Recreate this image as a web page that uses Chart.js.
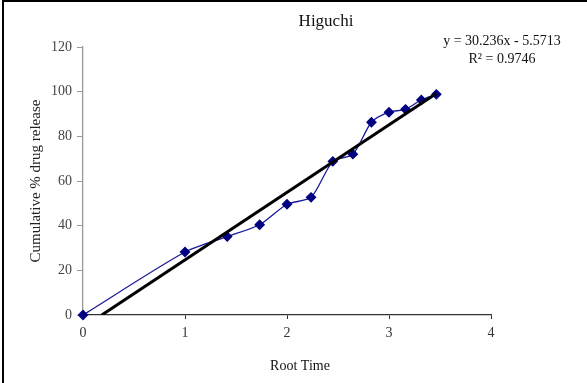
<!DOCTYPE html>
<html>
<head>
<meta charset="utf-8">
<script src="https://cdn.jsdelivr.net/npm/chart.js@4/dist/chart.umd.min.js"></script>
<style>
  html, body { margin: 0; padding: 0; background: #fff; }
  #wrap { width: 587px; height: 383px; }
</style>
</head>
<body>
<div id="wrap"><canvas id="myChart" width="587" height="383"></canvas></div>
<script>
// Root time (x) and cumulative % drug release (y)
const rootTime = [0, 1, 1.414, 1.732, 2, 2.236, 2.449, 2.646, 2.828, 3, 3.162, 3.317, 3.464];
const release = [0, 28.2, 35.1, 40.4, 49.6, 52.7, 68.8, 72.0, 86.3, 90.8, 92.1, 96.3, 98.8];

// Linear trendline end points
const trendX = [0.184, 3.464];
const trendY = [0, 99.2];

const chartTitle = 'Higuchi';
const equationLines = ['y = 30.236x - 5.5713', 'R\u00b2 = 0.9746'];
const xTitle = 'Root Time';
const yTitle = 'Cumulative % drug release';

const serif = "'Liberation Serif', 'Times New Roman', serif";

// Texts and frame drawn over the chart
const extras = {
    id: 'extras',
    afterDraw(chart) {
        const ctx = chart.ctx;
        ctx.save();
        ctx.fillStyle = '#000';
        ctx.fillRect(2, 0, 2, 383);
        ctx.fillRect(2, 0, 585, 2);

        ctx.fillStyle = '#111';
        ctx.textAlign = 'center';
        ctx.textBaseline = 'middle';
        ctx.font = '17px ' + serif;
        ctx.fillText(chartTitle, 326, 22);

        ctx.font = '14px ' + serif;
        ctx.fillText(equationLines[0], 502, 41);
        ctx.fillText(equationLines[1], 502, 59);

        ctx.font = '14px ' + serif;
        ctx.fillText(xTitle, 300, 366);
        ctx.restore();
    }
};

const data = {
    datasets: [
        {
            label: 'Trend',
            data: trendX.map((x, i) => ({ x: x, y: trendY[i] })),
            showLine: true,
            borderColor: '#000',
            borderWidth: 3,
            pointRadius: 0,
            order: 0
        },
        {
            label: 'Release',
            data: rootTime.map((x, i) => ({ x: x, y: release[i] })),
            showLine: true,
            clip: false,
            borderColor: '#1a1a99',
            borderWidth: 1.3,
            tension: 0.25,
            pointStyle: 'rectRot',
            pointRadius: 4.5,
            pointBackgroundColor: '#000080',
            pointBorderColor: '#000080',
            order: 1
        }
    ]
};

const config = {
    type: 'scatter',
    data: data,
    options: {
        responsive: false,
        animation: false,
        layout: {
            padding: { top: 47, right: 96, left: 0, bottom: 0 }
        },
        plugins: {
            legend: { display: false },
            tooltip: { enabled: false }
        },
        scales: {
            x: {
                type: 'linear',
                min: 0,
                max: 4,
                ticks: {
                    stepSize: 1,
                    color: '#333',
                    padding: 6,
                    font: { family: serif, size: 14 }
                },
                grid: {
                    drawOnChartArea: false,
                    tickLength: 4,
                    color: '#333'
                },
                border: { color: '#333', width: 1.3 },
                afterFit(scale) { scale.height = 68; }
            },
            y: {
                min: 0,
                max: 120,
                ticks: {
                    stepSize: 20,
                    color: '#444',
                    padding: 5,
                    font: { family: serif, size: 14 }
                },
                grid: {
                    drawOnChartArea: false,
                    tickLength: 6,
                    color: '#999'
                },
                border: { color: '#999', width: 1.3 },
                title: {
                    display: true,
                    text: yTitle,
                    color: '#222',
                    font: { family: serif, size: 15 },
                    padding: { top: 27, bottom: 0 }
                },
                afterFit(scale) { scale.width = 83; }
            }
        }
    },
    plugins: [extras]
};

const ctx = document.getElementById('myChart').getContext('2d');
new Chart(ctx, config);
</script>
</body>
</html>
